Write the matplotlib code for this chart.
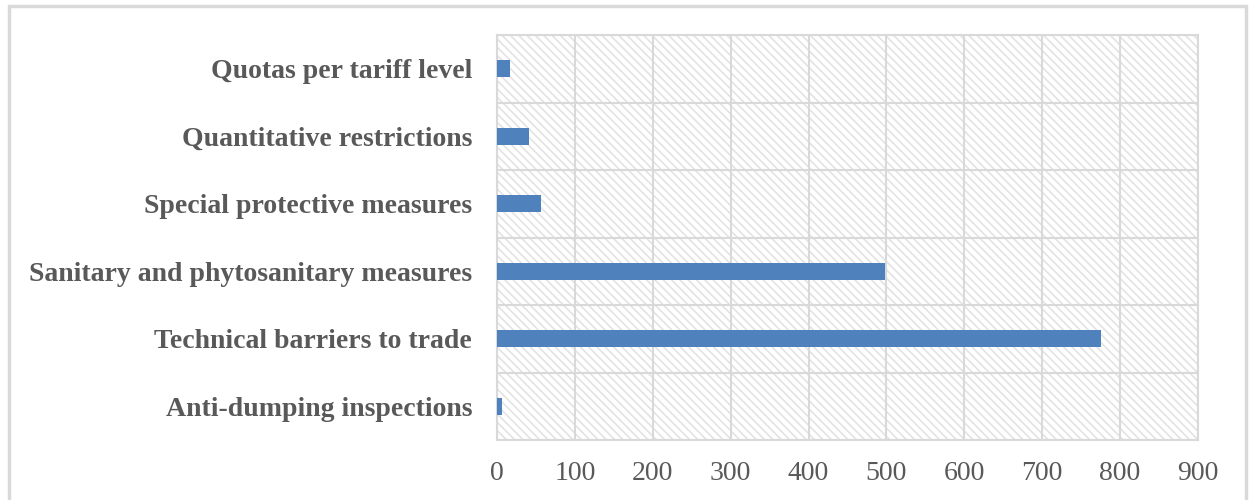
import matplotlib.pyplot as plt
import numpy as np
from matplotlib.patches import Rectangle

categories = [
    "Anti-dumping inspections",
    "Technical barriers to trade",
    "Sanitary and phytosanitary measures",
    "Special protective measures",
    "Quantitative restrictions",
    "Quotas per tariff level",
]
values = [6, 775, 498, 56, 41, 17]
xticks = [0, 100, 200, 300, 400, 500, 600, 700, 800, 900]

grid_col = "#d9d9d9"
text_col = "#595959"
plt.rcParams["hatch.linewidth"] = 1.2
plt.rcParams["hatch.color"] = "#e3e3e3"

fig = plt.figure(figsize=(12.5, 5), dpi=100)
fig.patches.append(Rectangle((0.007, -0.05), 0.99, 1.038, transform=fig.transFigure,
                             fill=False, edgecolor=grid_col, lw=2.5))
ax = fig.add_axes([0.3976, 0.12, 0.5608, 0.81])

ax.patch.set_facecolor("white")
ax.patch.set_hatch("\\\\\\\\")
ax.patch.set_edgecolor("#e3e3e3")

y = np.arange(len(categories))
ax.barh(y, values, height=0.25, color="#4f81bd", zorder=3)

ax.set_xlim(0, 900)
ax.set_ylim(-0.5, len(categories) - 0.5)
ax.set_xticks(xticks)
ax.set_yticks(y)
ax.set_yticklabels(categories, fontfamily="Liberation Serif", fontweight="bold",
                   fontsize=20, color=text_col)
ax.set_yticks(np.arange(-0.5, len(categories), 1), minor=True)
for lab in ax.get_xticklabels():
    lab.set_fontfamily("Liberation Serif")
    lab.set_fontsize(20)
    lab.set_color(text_col)
ax.tick_params(axis="both", which="both", length=0)
ax.tick_params(axis="y", pad=18)
ax.tick_params(axis="x", pad=15)
ax.grid(axis="x", which="major", color=grid_col, lw=1.5, zorder=1)
ax.grid(axis="y", which="minor", color=grid_col, lw=1.5, zorder=1)
ax.set_axisbelow(True)
for s in ax.spines.values():
    s.set_color(grid_col)
    s.set_linewidth(1.5)

fig.savefig("out.png", dpi=100)
